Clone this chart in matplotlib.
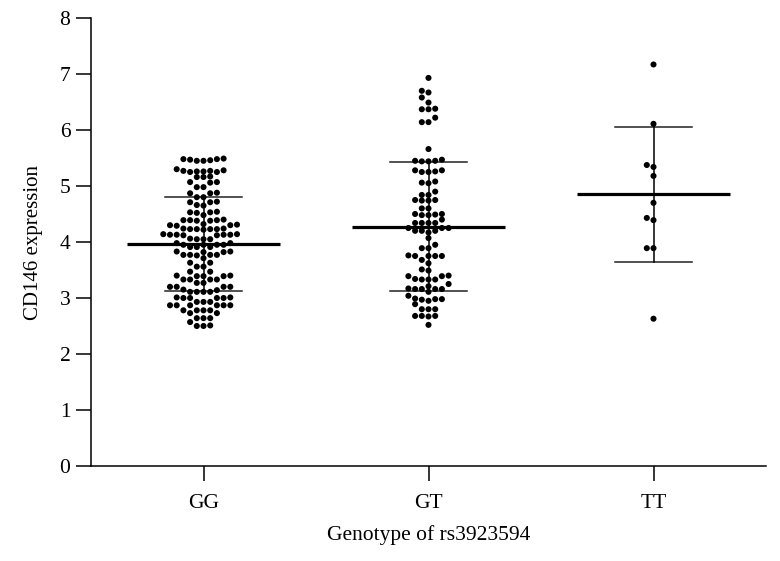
import numpy as np
import matplotlib
matplotlib.use("Agg")
import matplotlib.pyplot as plt

plt.rcParams['font.family'] = ['Liberation Serif', 'DejaVu Serif']

categories = ["GG", "GT", "TT"]

gg_values = [
    5.48, 5.48, 5.49, 5.47, 5.45, 5.46, 5.45,
    5.30, 5.27, 5.26, 5.25, 5.25, 5.26, 5.27, 5.28,
    5.17, 5.16, 5.16,
    5.07, 5.07, 5.06,
    4.98, 4.98,
    4.88, 4.87, 4.87,
    4.80, 4.80,
    4.72, 4.71, 4.71,
    4.66, 4.65,
    4.54, 4.53, 4.53, 4.52,
    4.48,
    4.40, 4.39, 4.39, 4.38, 4.38, 4.39,
    4.31, 4.30, 4.30, 4.29, 4.32,
    4.24, 4.23, 4.23, 4.22, 4.23, 4.23, 4.24,
    4.14, 4.13, 4.13, 4.12, 4.12, 4.13, 4.13, 4.14,
    4.06, 4.05, 4.05, 4.05,
    3.98, 3.98,
    3.95, 3.95, 3.95, 3.95,
    3.91, 3.91, 3.91,
    3.83, 3.82, 3.82, 3.83,
    3.77, 3.77, 3.76, 3.77, 3.77,
    3.71,
    3.63, 3.63,
    3.56, 3.56,
    3.47, 3.47,
    3.40, 3.39, 3.39, 3.39, 3.40,
    3.33, 3.33, 3.33, 3.33,
    3.27, 3.27,
    3.20, 3.20, 3.20, 3.20,
    3.15, 3.14,
    3.11, 3.11, 3.11, 3.11,
    3.01, 3.00, 3.00, 3.00, 3.00, 3.01,
    2.93, 2.93, 2.93,
    2.87, 2.87, 2.87, 2.87, 2.87, 2.87,
    2.78, 2.78, 2.78, 2.78,
    2.73, 2.73,
    2.64, 2.64, 2.64,
    2.57,
    2.50, 2.50, 2.51,
]

gt_values = [
    6.93,
    6.70, 6.67,
    6.58,
    6.49,
    6.37, 6.37, 6.38,
    6.22,
    6.14, 6.14,
    5.66,
    5.45, 5.44, 5.44, 5.45, 5.47,
    5.28, 5.26, 5.25, 5.25, 5.28,
    5.08, 5.06, 5.05,
    4.90,
    4.84, 4.84,
    4.75, 4.74, 4.74, 4.75,
    4.60, 4.60,
    4.50, 4.49, 4.48, 4.48, 4.50,
    4.40,
    4.34, 4.34, 4.34, 4.34,
    4.25, 4.25, 4.25,
    4.20, 4.17, 4.20, 4.20,
    4.07,
    3.95,
    3.89, 3.89,
    3.75, 3.75, 3.75, 3.75, 3.76,
    3.68,
    3.62,
    3.51,
    3.49,
    3.39, 3.39, 3.40,
    3.33, 3.33, 3.33, 3.34,
    3.25,
    3.21,
    3.16, 3.16, 3.16, 3.16, 3.17,
    3.11,
    3.04,
    2.98, 2.97, 2.95, 2.98, 2.99,
    2.89,
    2.80, 2.80, 2.80,
    2.68, 2.68, 2.67, 2.68,
    2.52,
]

tt_values = [7.17, 6.11, 5.375, 5.34, 5.18, 4.70, 4.43, 4.39, 3.89, 3.89, 2.63]

group_values = [gg_values, gt_values, tt_values]
group_means = [3.96, 4.27, 4.85]
group_sds = [0.84, 1.15, 1.21]

yticks = [0, 1, 2, 3, 4, 5, 6, 7, 8]

W, H = 780, 561
fig = plt.figure(figsize=(W / 100, H / 100), dpi=100)
ax = fig.add_axes([91 / W, (H - 466) / H, (766 - 91) / W, (466 - 18) / H])
ax.set_xlim(-0.5, 2.5)
ax.set_ylim(0, 8)

# pixel scales
px_per_x = (766 - 91) / 3.0
px_per_y = (466 - 18) / 8.0

step_px = 6.7
coll_px = 5.2


def beeswarm(vals):
    vals = np.asarray(vals, dtype=float)
    order = np.argsort(vals)
    placed = []
    offs = np.zeros(len(vals))
    cands = [0]
    for j in range(1, 40):
        cands += [-j, j]
    for i in order:
        y = vals[i] * px_per_y
        for c in cands:
            x = c * step_px
            ok = True
            for (px, py) in placed:
                if (px - x) ** 2 + (py - y) ** 2 < coll_px ** 2:
                    ok = False
                    break
            if ok:
                placed.append((x, y))
                offs[i] = x / px_per_x
                break
    return offs


for gi, vals in enumerate(group_values):
    m = group_means[gi]
    s = group_sds[gi]
    ax.plot([gi - 0.34, gi + 0.34], [m, m], color='black', lw=2.3, zorder=2,
            solid_capstyle='butt')
    ax.plot([gi - 0.17, gi + 0.17], [m - s, m - s], color='#222222', lw=1.1, zorder=2)
    ax.plot([gi - 0.17, gi + 0.17], [m + s, m + s], color='#222222', lw=1.1, zorder=2)
    ax.plot([gi, gi], [m - s, m + s], color='black', lw=1.1, zorder=2)
    offs = beeswarm(vals)
    ax.scatter(gi + offs, vals, s=19, color='black', edgecolors='none', zorder=3)

ax.spines['top'].set_visible(False)
ax.spines['right'].set_visible(False)
for sp in ['left', 'bottom']:
    ax.spines[sp].set_linewidth(1.1)

ax.set_xticks(range(len(categories)))
ax.set_xticklabels(categories)
ax.set_yticks(yticks)
ax.tick_params(axis='both', length=10.8, width=1.1, labelsize=15.5, direction='out')
ax.tick_params(axis='y', pad=4)
ax.tick_params(axis='x', pad=9)

ax.set_xlabel("Genotype of rs3923594", fontsize=15.5, labelpad=9)
ax.set_ylabel("CD146 expression", fontsize=15, labelpad=12)

fig.savefig("out.png", dpi=100)
